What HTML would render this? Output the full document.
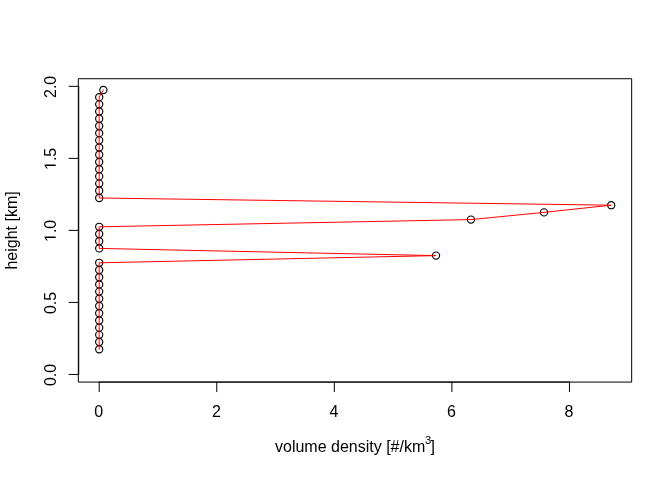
<!DOCTYPE html><html><head><meta charset="utf-8"><style>html,body{margin:0;padding:0;background:#fff;}svg{display:block;will-change:transform;}text{font-family:"Liberation Sans",sans-serif;fill:#000;}</style></head><body>
<svg width="672" height="480" viewBox="0 0 672 480">
<rect x="0" y="0" width="672" height="480" fill="#fff"/>
<g fill="none" stroke="#000" stroke-width="1.15"><circle cx="99.20" cy="349.24" r="3.6"/><circle cx="99.20" cy="342.04" r="3.6"/><circle cx="99.20" cy="334.83" r="3.6"/><circle cx="99.20" cy="327.63" r="3.6"/><circle cx="99.20" cy="320.43" r="3.6"/><circle cx="99.20" cy="313.23" r="3.6"/><circle cx="99.20" cy="306.02" r="3.6"/><circle cx="99.20" cy="298.82" r="3.6"/><circle cx="99.20" cy="291.62" r="3.6"/><circle cx="99.20" cy="284.42" r="3.6"/><circle cx="99.20" cy="277.21" r="3.6"/><circle cx="99.20" cy="270.01" r="3.6"/><circle cx="99.20" cy="262.81" r="3.6"/><circle cx="436.03" cy="255.61" r="3.6"/><circle cx="99.20" cy="248.41" r="3.6"/><circle cx="99.20" cy="241.20" r="3.6"/><circle cx="99.20" cy="234.00" r="3.6"/><circle cx="99.20" cy="226.80" r="3.6"/><circle cx="470.94" cy="219.60" r="3.6"/><circle cx="544.01" cy="212.39" r="3.6"/><circle cx="611.20" cy="205.19" r="3.6"/><circle cx="99.20" cy="197.99" r="3.6"/><circle cx="99.20" cy="190.79" r="3.6"/><circle cx="99.20" cy="183.59" r="3.6"/><circle cx="99.20" cy="176.38" r="3.6"/><circle cx="99.20" cy="169.18" r="3.6"/><circle cx="99.20" cy="161.98" r="3.6"/><circle cx="99.20" cy="154.78" r="3.6"/><circle cx="99.20" cy="147.57" r="3.6"/><circle cx="99.20" cy="140.37" r="3.6"/><circle cx="99.20" cy="133.17" r="3.6"/><circle cx="99.20" cy="125.97" r="3.6"/><circle cx="99.20" cy="118.76" r="3.6"/><circle cx="99.20" cy="111.56" r="3.6"/><circle cx="99.20" cy="104.36" r="3.6"/><circle cx="99.20" cy="97.16" r="3.6"/><circle cx="103.37" cy="89.96" r="3.6"/></g>
<path d="M99.20 349.24 L99.20 342.04 L99.20 334.83 L99.20 327.63 L99.20 320.43 L99.20 313.23 L99.20 306.02 L99.20 298.82 L99.20 291.62 L99.20 284.42 L99.20 277.21 L99.20 270.01 L99.20 262.81 L436.03 255.61 L99.20 248.41 L99.20 241.20 L99.20 234.00 L99.20 226.80 L470.94 219.60 L544.01 212.39 L611.20 205.19 L99.20 197.99 L99.20 190.79 L99.20 183.59 L99.20 176.38 L99.20 169.18 L99.20 161.98 L99.20 154.78 L99.20 147.57 L99.20 140.37 L99.20 133.17 L99.20 125.97 L99.20 118.76 L99.20 111.56 L99.20 104.36 L99.20 97.16 L103.37 89.96" fill="none" stroke="#f00" stroke-width="1" stroke-linejoin="round" stroke-linecap="round"/>
<g fill="none" stroke="#000" stroke-width="1" stroke-linecap="round"><rect x="78.72" y="78.72" width="552.96" height="303.36" stroke-linejoin="round"/><path d="M99.20 382.08 L569.46 382.08"/><path d="M99.20 382.08 L99.20 391.68"/><path d="M216.77 382.08 L216.77 391.68"/><path d="M334.33 382.08 L334.33 391.68"/><path d="M451.90 382.08 L451.90 391.68"/><path d="M569.46 382.08 L569.46 391.68"/><path d="M78.72 374.45 L78.72 86.35"/><path d="M78.72 374.45 L69.12 374.45"/><path d="M78.72 302.42 L69.12 302.42"/><path d="M78.72 230.40 L69.12 230.40"/><path d="M78.72 158.38 L69.12 158.38"/><path d="M78.72 86.35 L69.12 86.35"/></g>
<g font-size="16"><text x="98.80" y="416.64" text-anchor="middle">0</text><text x="216.37" y="416.64" text-anchor="middle">2</text><text x="333.93" y="416.64" text-anchor="middle">4</text><text x="451.50" y="416.64" text-anchor="middle">6</text><text x="569.06" y="416.64" text-anchor="middle">8</text><text x="55.68" y="374.95" text-anchor="middle" transform="rotate(-90 55.68 374.95)">0.0</text><text x="55.68" y="302.92" text-anchor="middle" transform="rotate(-90 55.68 302.92)">0.5</text><g transform="translate(55.68 230.90) rotate(-90)"><path transform="translate(-11.121 0) scale(0.0078125 -0.0078125)" d="M515 0V1237L197 1010V1180L530 1409H696V0Z"/><text x="-2.223" y="0">.0</text></g><g transform="translate(55.68 158.88) rotate(-90)"><path transform="translate(-11.121 0) scale(0.0078125 -0.0078125)" d="M515 0V1237L197 1010V1180L530 1409H696V0Z"/><text x="-2.223" y="0">.5</text></g><text x="55.68" y="86.85" text-anchor="middle" transform="rotate(-90 55.68 86.85)">2.0</text><text x="17.28" y="230.40" text-anchor="middle" transform="rotate(-90 17.28 230.40)">height [km]</text><text x="275" y="452">volume density [#/km<tspan font-size="11.2" dx="-0.3" dy="-8.0">3</tspan><tspan dx="-0.6" dy="8.0">]</tspan></text></g>
</svg></body></html>
